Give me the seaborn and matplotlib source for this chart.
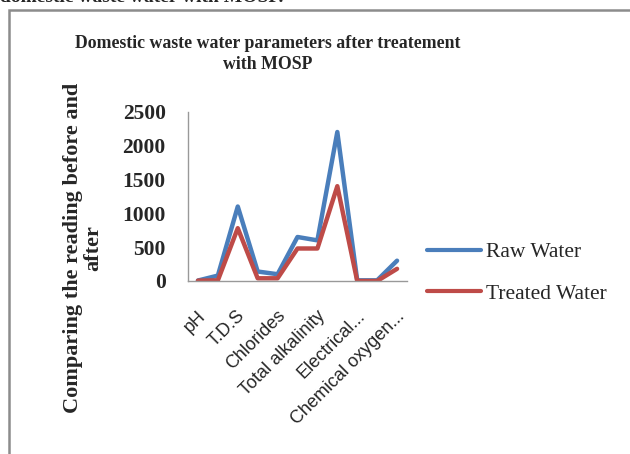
import matplotlib
matplotlib.use("Agg")
import matplotlib.pyplot as plt
from matplotlib.patches import Rectangle
from matplotlib.lines import Line2D
from matplotlib.transforms import ScaledTranslation
import seaborn as sns
import pandas as pd

parameters = ["pH", "Turbidity", "T.D.S", "T.S.S", "Chlorides", "Sulphates",
              "Total alkalinity", "Total hardness", "Electrical conductivity",
              "Dissolved oxygen", "Chemical oxygen demand"]
shown_labels = ["pH", "", "T.D.S", "", "Chlorides", "", "Total alkalinity", "",
                "Electrical...", "", "Chemical oxygen..."]
raw_water = [7, 80, 1100, 140, 100, 650, 600, 2200, 10, 10, 300]
treated_water = [5, 10, 780, 40, 40, 480, 480, 1400, 0, 0, 180]
series_names = ["Raw Water", "Treated Water"]
colors = ["#4A7EBB", "#BE4B48"]
y_ticks = [0, 500, 1000, 1500, 2000, 2500]

rows = []
for i, p in enumerate(parameters):
    rows.append({"idx": i, "param": p, "value": raw_water[i], "series": series_names[0]})
    rows.append({"idx": i, "param": p, "value": treated_water[i], "series": series_names[1]})
df = pd.DataFrame(rows)

sns.set_style("white")
W, H = 630, 454
fig = plt.figure(figsize=(W / 100, H / 100), dpi=100)
ax = fig.add_axes([188 / W, 1 - 281 / H, (407 - 188) / W, (281 - 111.7) / H])

sns.lineplot(data=df, x="idx", y="value", hue="series", palette=colors,
             hue_order=series_names, linewidth=3.2, ax=ax, legend=False,
             sort=False)

ax.set_xlim(-0.5, len(parameters) - 0.5)
ax.set_ylim(0, 2500)
ax.set_yticks(y_ticks)
ax.set_yticklabels([str(v) for v in y_ticks], fontfamily="Liberation Serif",
                   fontweight="bold", fontsize=15.5)
ax.set_xticks(range(len(parameters)))
ax.set_xticklabels(shown_labels, rotation=45, ha="right", rotation_mode="anchor",
                   fontfamily="Liberation Sans", fontsize=13)
ax.tick_params(axis="x", length=0, pad=19)
ax.tick_params(axis="y", length=0, pad=16)
shift = ScaledTranslation(-1 / 100, 0, fig.dpi_scale_trans)
for lbl in ax.get_xticklabels():
    lbl.set_transform(lbl.get_transform() + shift)
ax.set_xlabel("")
ax.set_ylabel("")
for s in ["top", "right"]:
    ax.spines[s].set_visible(False)
for s in ["left", "bottom"]:
    ax.spines[s].set_color("#999999")
    ax.spines[s].set_linewidth(1.0)

fig.text(83 / W, 1 - 248 / H, "Comparing the reading before and\nafter",
         rotation=90, ha="center", va="center", fontfamily="Liberation Serif",
         fontweight="bold", fontsize=16, linespacing=1.0)

fig.text(268 / W, 1 - 54 / H, "Domestic waste water parameters after treatement\nwith MOSP",
         ha="center", va="center", fontfamily="Liberation Serif",
         fontweight="bold", fontsize=12.8, linespacing=1.3)

fig.text(0.0, 1 - 2 / H, "domestic waste water with MOSP.", ha="left", va="baseline",
         fontfamily="Liberation Serif", fontweight="bold", fontsize=14)

handles = [Line2D([0], [0], color=c, lw=3) for c in colors]
fig.legend(handles, series_names, loc="center left",
           bbox_to_anchor=(408 / W, 1 - 273 / H), frameon=False,
           prop={"family": "Liberation Serif", "size": 15.5},
           handlelength=2.5, handletextpad=0.2, labelspacing=1.0)

fig.add_artist(Rectangle((9 / W, -0.1), 1.2, 1 - 10 / H + 0.1,
                         transform=fig.transFigure, fill=False,
                         edgecolor="#8c8c8c", linewidth=1.8))

fig.savefig("out.png", dpi=100)
